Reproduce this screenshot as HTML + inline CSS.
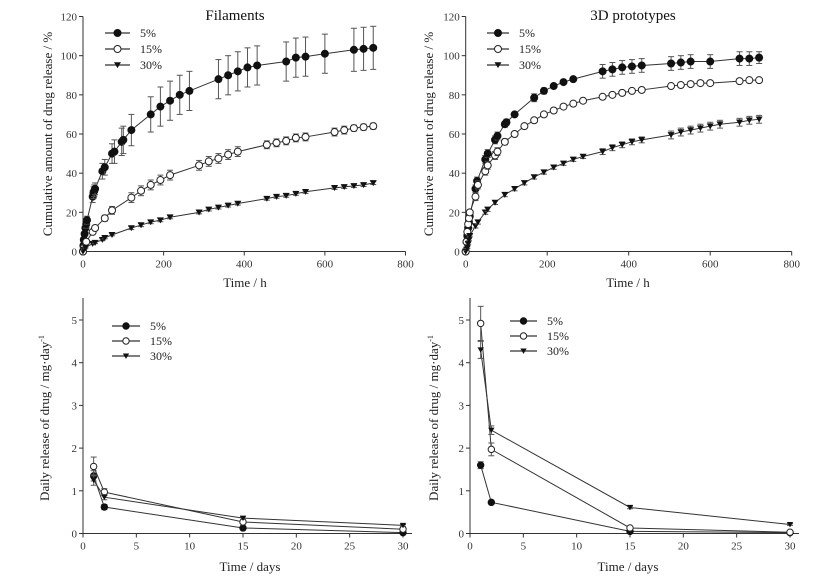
<!DOCTYPE html>
<html><head><meta charset="utf-8"><style>
html,body{margin:0;padding:0;background:#fff;overflow:hidden;}
svg{display:block;font-family:"Liberation Serif",serif;}
</style></head><body>
<svg id="c" width="816" height="578" viewBox="0 0 816 578"></svg>
<script>
// ---- data: Filaments cumulative ----
const fT5=[0,1,2,4,6,8,10,24,26,28,30,48,54,72,78,96,100,120,168,192,216,240,264,336,360,384,408,432,504,528,552,600,672,696,720];
const fV5=[0,3,6,9,12,14,16,28,30,31,32,41,43,50,51,56,57,62,70,74,77,80,82,88,90,92,94,95,97,99,99.5,101,103,103.5,104];
const fE5=[0,1,1,1,1,2,2,3,3,3,3,4,4,5,6,7,7,8,9,10,10,10,10,10,10,10,10,10,10,10,10,10,11,11,11];
const fT15=[0,2,8,24,30,54,72,120,144,168,192,216,288,312,336,360,384,456,480,504,528,552,624,648,672,696,720];
const fV15=[0,2,5,10,12,17,21,27.5,31,34,36.5,39,44,46,47.5,49.5,51,54.5,55.5,56.5,58,58.5,61,62,63,63.5,64];
const fE15=[0,1,1,1,1,1.5,2,2.5,2.5,2.5,2.5,2.5,2.5,2.5,2.5,2.5,2.5,2,2,2,2,2,2,2,1.5,1.5,1.5];
const fT30=[0,2,6,24,30,48,54,72,120,144,168,192,216,288,312,336,360,384,456,480,504,528,552,624,648,672,696,720];
const fV30=[0,1,2,4,4.5,6,7,8.5,12,13.5,15,16,17.5,20,21.5,22.5,23.5,24.5,27,28,28.5,29.5,30.5,32.5,33,33.5,34,35];
const fE30=[0,0.3,0.3,0.5,0.5,0.5,0.5,0.5,0.8,0.8,0.8,0.8,0.8,0.8,0.8,0.8,0.8,0.8,0.8,0.8,0.8,0.8,0.8,0.8,0.8,0.8,0.8,0.8];
// ---- data: 3D prototypes cumulative ----
const pT5=[0,2,4,6,8,10,24,28,48,54,72,78,96,100,120,168,192,216,240,264,336,360,384,408,432,504,528,552,600,672,696,720];
const pV5=[0,5,8,12,15,18,32,36,47,50,57,59,65,66,70,78.5,82,84.5,86.5,88,92,93,94,94.5,95,96,96.5,97,97,98.5,98.5,99];
const pE5=[0,1,1,1,1,1,2,2,2,2,2,2,1.5,1.5,1,2,1.5,1,1,1,3.5,3.5,3.5,3.5,3.5,3.5,3.5,3.5,3.5,3.5,3.5,3];
const pT15=[0,2,4,6,8,10,24,30,48,54,72,78,96,120,144,168,192,216,240,264,288,336,360,384,408,432,504,528,552,576,600,672,696,720];
const pV15=[0,5,10,14,17,20,28,34,41,44,49,51,56,60,64,67,70,72,74,75.5,77,79,80,81,82,82.5,84.5,85,85.5,86,86,87,87.5,87.5];
const pE15=[0,1,1,1,1,1,2,2,2,2,2,2,1.5,1,1,1,1,1,1,1,1,1,1,1,1,1,1,1,1,1,1,1,1,1];
const pT30=[0,2,4,6,8,10,24,30,48,54,72,96,120,144,168,192,216,240,264,288,336,360,384,408,432,504,528,552,576,600,624,672,696,720];
const pV30=[0,1,2,4,6,8,13,15,20,21.5,25,29,32,35,38,40.5,43,45,47,48.5,51,53,54.5,56,57,59.5,61,62,63,64,65,66,67,67.5];
const pE30=[0,0.5,0.5,0.5,0.5,0.5,1,1,1,1,1,1,1,1,1,1,1,1,1,1,1.5,1.5,1.5,1.5,1.5,2,2,2,2,2,2,2,2,2];
// ---- data: daily release ----
const days=[1,2,15,30];
const dF5=[1.35,0.62,0.13,0.02], dF5e=[0.12,0.06,0.04,0.02];
const dF15=[1.57,0.97,0.27,0.1], dF15e=[0.22,0.08,0.04,0.02];
const dF30=[1.25,0.85,0.36,0.19], dF30e=[0.12,0.06,0.03,0.02];
const dP5=[1.6,0.73,0.05,0.02], dP5e=[0.08,0.03,0.02,0.02];
const dP15=[4.92,1.97,0.13,0.03], dP15e=[0.4,0.15,0.03,0.02];
const dP30=[4.3,2.42,0.61,0.21], dP30e=[0.2,0.1,0.03,0.02];
const cumXTicks=[0,200,400,600,800], cumYTicks=[0,20,40,60,80,100,120];
const dayXTicks=[0,5,10,15,20,25,30], dayYTicks=[0,1,2,3,4,5];

const NS="http://www.w3.org/2000/svg";
const svg=document.getElementById('c');
function el(tag,attrs,parent){const e=document.createElementNS(NS,tag);for(const k in attrs)e.setAttribute(k,attrs[k]);(parent||svg).appendChild(e);return e;}

function panel(p){
  const g=el('g',{});
  
  
  const sx=v=>p.x0+(v-p.xmin)/(p.xmax-p.xmin)*(p.x1-p.x0);
  const sy=v=>p.y0-(v-p.ymin)/(p.ymax-p.ymin)*(p.y0-p.y1);
  const ax=el('g',{stroke:'#333','stroke-width':1},g);
  
  
  el('line',{x1:p.x0,y1:p.y0,x2:p.xend,y2:p.y0},ax);
  el('line',{x1:p.x0,y1:p.y0,x2:p.x0,y2:p.ytop},ax);
  p.xt.forEach(v=>{
    el('line',{x1:sx(v),y1:p.y0,x2:sx(v),y2:p.y0+4},ax);
    const t=el('text',{x:sx(v),y:p.y0+16,'text-anchor':'middle','font-size':p.fs,fill:'#333'},g);t.textContent=v;
    
    
  });
  p.yt.forEach(v=>{
    el('line',{x1:p.x0,y1:sy(v),x2:p.x0-4,y2:sy(v)},ax);
    const t=el('text',{x:p.x0-6,y:sy(v)+4,'text-anchor':'end','font-size':p.fs,fill:'#333'},g);t.textContent=v;
    
    
  });
  if(p.title){const t=el('text',{x:p.tx,y:20,'text-anchor':'middle','font-size':15,fill:'#111'},g);t.textContent=p.title;
    
    }
  const xt=el('text',{x:p.xtx,y:p.xty,'text-anchor':'middle','font-size':13,fill:'#222'},g);xt.textContent=p.xlabel;
  
  
  const yt=el('text',{x:0,y:0,transform:`translate(${p.ytx},${p.yty}) rotate(-90)`,'text-anchor':'middle','font-size':13,fill:'#222'},g);
  if(p.sup){yt.innerHTML=p.ylabel+'<tspan font-size="8" dy="-5">-1</tspan>';}else yt.textContent=p.ylabel;
  
  
  p.series.forEach((s,si)=>{
    const sg=el('g',{},g);
    
    
    const pts=s.x.map((v,i)=>sx(v)+','+sy(s.y[i])).join(' ');
    el('polyline',{points:pts,fill:'none',stroke:'#333','stroke-width':1},sg);
    s.x.forEach((v,i)=>{
      const e=s.e[i];
      if(e>0){
        const X=sx(v),a=sy(s.y[i]+e),b=sy(s.y[i]-e);
        el('line',{x1:X,y1:a,x2:X,y2:b,stroke:'#555','stroke-width':1},sg);
        el('line',{x1:X-3,y1:a,x2:X+3,y2:a,stroke:'#555','stroke-width':1},sg);
        el('line',{x1:X-3,y1:b,x2:X+3,y2:b,stroke:'#555','stroke-width':1},sg);
      }
      const m=marker(s.m,sx(v),sy(s.y[i]),p.r,sg);
      
      
    });
    const ly=p.ly+si*p.lsp;
    const lg=el('g',{},g);
    
    
    el('line',{x1:p.lx,y1:ly,x2:p.lx+p.lw,y2:ly,stroke:'#333','stroke-width':1.2},lg);
    marker(s.m,p.lx+p.lw/2,ly,p.r,lg);
    const lt=el('text',{x:p.lx+p.lw+10,y:ly+4,'font-size':12,fill:'#222'},lg);lt.textContent=s.label;
  });
}
function marker(m,x,y,r,parent){
  if(m==='c')return el('circle',{cx:x,cy:y,r:r,fill:'#111',stroke:'#111'},parent);
  if(m==='o')return el('circle',{cx:x,cy:y,r:r,fill:'#fff',stroke:'#222','stroke-width':1},parent);
  return el('polygon',{points:`${x-r},${y-r*0.8} ${x+r},${y-r*0.8} ${x},${y+r*0.9}`,fill:'#111'},parent);
}
panel({name:'filaments-chart',x0:83,x1:405.5,xmin:0,xmax:800,xend:405.5,y0:251.5,y1:16.5,ymin:0,ymax:120,ytop:16.5,
 xt:cumXTicks,yt:cumYTicks,fs:11,title:'Filaments',tx:235,xlabel:'Time / h',xtx:245,xty:287,ylabel:'Cumulative amount of drug release / %',ytx:52,yty:134,
 r:3.5,lx:105,lw:25,ly:33,lsp:16,
 series:[{label:'5%',m:'c',x:fT5,y:fV5,e:fE5},{label:'15%',m:'o',x:fT15,y:fV15,e:fE15},{label:'30%',m:'t',x:fT30,y:fV30,e:fE30}]});
panel({name:'prototypes-chart',x0:465.7,x1:791.7,xmin:0,xmax:800,xend:791.7,y0:251.5,y1:16.5,ymin:0,ymax:120,ytop:16.5,
 xt:cumXTicks,yt:cumYTicks,fs:11,title:'3D prototypes',tx:633,xlabel:'Time / h',xtx:628,xty:287,ylabel:'Cumulative amount of drug release / %',ytx:433,yty:134,
 r:3.5,lx:487,lw:22,ly:33,lsp:16,
 series:[{label:'5%',m:'c',x:pT5,y:pV5,e:pE5},{label:'15%',m:'o',x:pT15,y:pV15,e:pE15},{label:'30%',m:'t',x:pT30,y:pV30,e:pE30}]});
panel({name:'filaments-daily-chart',x0:83,x1:403,xmin:0,xmax:30,xend:412,y0:533.5,y1:320,ymin:0,ymax:5,ytop:298,
 xt:dayXTicks,yt:dayYTicks,fs:11,xlabel:'Time / days',xtx:250,xty:571,ylabel:'Daily release of drug / mg·day',sup:true,ytx:49,yty:418,
 r:3.2,lx:112,lw:28,ly:326,lsp:15,
 series:[{label:'5%',m:'c',x:days,y:dF5,e:dF5e},{label:'15%',m:'o',x:days,y:dF15,e:dF15e},{label:'30%',m:'t',x:days,y:dF30,e:dF30e}]});
panel({name:'prototypes-daily-chart',x0:470,x1:790,xmin:0,xmax:30,xend:799,y0:533.5,y1:320,ymin:0,ymax:5,ytop:298,
 xt:dayXTicks,yt:dayYTicks,fs:11,xlabel:'Time / days',xtx:628,xty:571,ylabel:'Daily release of drug / mg·day',sup:true,ytx:438,yty:418,
 r:3.2,lx:510,lw:27,ly:321,lsp:15,
 series:[{label:'5%',m:'c',x:days,y:dP5,e:dP5e},{label:'15%',m:'o',x:days,y:dP15,e:dP15e},{label:'30%',m:'t',x:days,y:dP30,e:dP30e}]});
</script>
</body></html>
